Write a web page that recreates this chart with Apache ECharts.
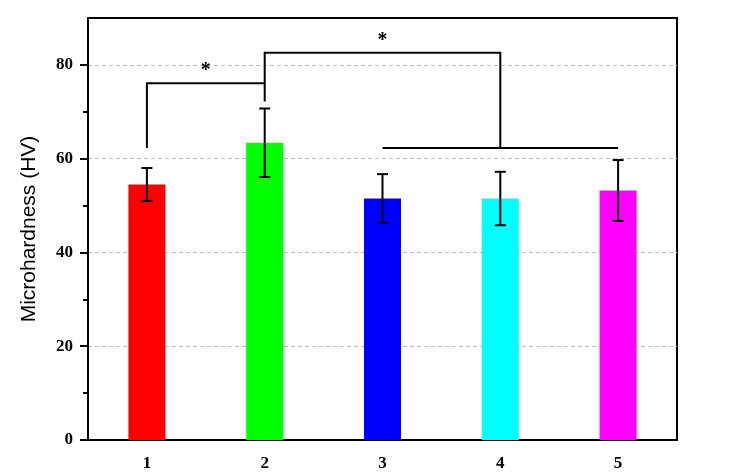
<!DOCTYPE html>
<html>
<head>
<meta charset="utf-8">
<script src="https://cdn.jsdelivr.net/npm/echarts@6/dist/echarts.min.js"></script>
<style>html,body{margin:0;padding:0;background:#fff;}#c{width:731px;height:475px;}</style>
</head>
<body>
<div id="c"></div>
<script>
const categories = ['1', '2', '3', '4', '5'];
const means = [54.5, 63.4, 51.5, 51.5, 53.2];
const sds = [3.5, 7.3, 5.2, 5.7, 6.5];
const barColors = ['#ff0000', '#00ff00', '#0000ff', '#00ffff', '#ff00ff'];
const majorTicks = [0, 20, 40, 60, 80];
const minorTicks = [10, 30, 50, 70];
// significance brackets: polylines as [categoryIndex, value]
const brackets = [
  [[0, 62.3], [0, 76.1], [1, 76.1], [1, 72.2]],
  [[1, 76.1], [1, 82.6], [3, 82.6], [3, 62.3]],
  [[2, 62.3], [4, 62.3]]
];
// stars: [fromIndex, toIndex, value, text]
const stars = [
  [0, 1, 79.5, '*'],
  [1, 3, 86.0, '*']
];

const chart = echarts.init(document.getElementById('c'));
const serif = '"Liberation Serif", "Times New Roman", serif';

chart.setOption({
  animation: false,
  grid: { left: 88, top: 18, right: 54, bottom: 35, show: true, borderColor: '#000', borderWidth: 2 },
  xAxis: {
    type: 'category',
    data: categories,
    axisLine: { lineStyle: { color: '#000', width: 2 } },
    axisTick: { alignWithLabel: true, length: 6, lineStyle: { color: '#000', width: 2 } },
    axisLabel: { color: '#000', fontFamily: serif, fontWeight: 'bold', fontSize: 17, margin: 15 },
    splitLine: { show: false }
  },
  yAxis: [
    {
      type: 'value', min: 0, max: 90, interval: 20, position: 'left',
      name: 'Microhardness (HV)', nameLocation: 'middle', nameGap: 48,
      nameTextStyle: { fontFamily: '"Liberation Sans", Arial, sans-serif', fontSize: 21, color: '#000' },
      axisLine: { show: true, lineStyle: { color: '#000', width: 2 } },
      axisTick: { show: true, length: 8, customValues: majorTicks, lineStyle: { color: '#000', width: 2 } },
      axisLabel: { color: '#000', fontFamily: serif, fontWeight: 'bold', fontSize: 17, margin: 15, customValues: majorTicks },
      splitLine: { show: true, lineStyle: { color: '#bdbdbd', width: 1, type: [4, 3] } }
    },
    {
      type: 'value', min: 0, max: 90, position: 'left', offset: 0,
      axisLine: { show: false },
      axisTick: { show: true, length: 5, customValues: minorTicks, lineStyle: { color: '#000', width: 2 } },
      axisLabel: { show: false },
      splitLine: { show: false }
    }
  ],
  series: [
    {
      type: 'bar',
      barWidth: 37,
      data: means.map((v, i) => ({ value: v, itemStyle: { color: barColors[i] } })),
      z: 2
    },
    {
      type: 'custom',
      data: means.map((m, i) => [i, m, sds[i]]),
      z: 5,
      renderItem: function (params, api) {
        const i = api.value(0), m = api.value(1), s = api.value(2);
        const top = api.coord([i, m + s]);
        const bot = api.coord([i, m - s]);
        const hw = 5.5;
        const st = { stroke: '#000', lineWidth: 2 };
        return {
          type: 'group',
          children: [
            { type: 'line', shape: { x1: top[0], y1: top[1], x2: bot[0], y2: bot[1] }, style: st },
            { type: 'line', shape: { x1: top[0] - hw, y1: top[1], x2: top[0] + hw, y2: top[1] }, style: st },
            { type: 'line', shape: { x1: bot[0] - hw, y1: bot[1], x2: bot[0] + hw, y2: bot[1] }, style: st }
          ]
        };
      }
    },
    {
      type: 'custom',
      data: brackets.map((b, k) => [k]),
      z: 5,
      renderItem: function (params, api) {
        const pts = brackets[params.dataIndex].map(p => api.coord(p));
        return { type: 'polyline', shape: { points: pts }, style: { stroke: '#000', lineWidth: 2, fill: null } };
      }
    },
    {
      type: 'custom',
      data: stars.map((s, k) => [k]),
      z: 6,
      renderItem: function (params, api) {
        const s = stars[params.dataIndex];
        const a = api.coord([s[0], s[2]]);
        const b = api.coord([s[1], s[2]]);
        return {
          type: 'text',
          style: {
            text: s[3], x: (a[0] + b[0]) / 2, y: a[1] + 4,
            fontFamily: serif, fontWeight: 'bold', fontSize: 20, fill: '#000',
            align: 'center', verticalAlign: 'middle'
          }
        };
      }
    }
  ]
});
</script>
</body>
</html>
